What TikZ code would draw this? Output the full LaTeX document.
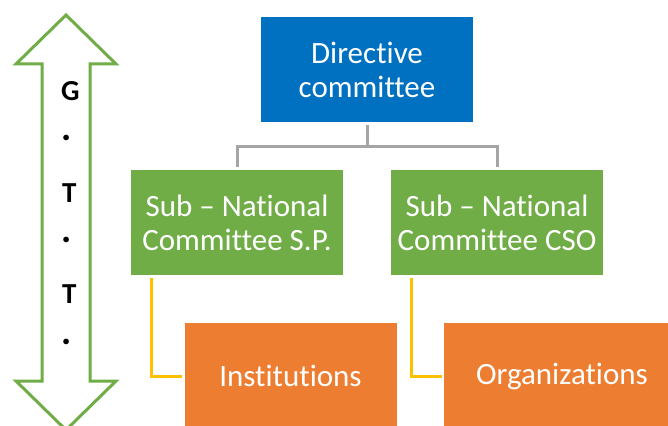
\documentclass[tikz,border=0pt]{standalone}
\usepackage{fontspec}
\setmainfont{Carlito}[Ligatures={NoCommon,NoContextual}]
\definecolor{dblue}{HTML}{0070C0}
\definecolor{dgreen}{HTML}{70AD47}
\definecolor{dorange}{HTML}{ED7D31}
\definecolor{dgray}{HTML}{A5A5A5}
\definecolor{dyellow}{HTML}{FFC000}
\begin{document}
\begin{tikzpicture}[x=1pt,y=-1pt,
  box/.style={rectangle, minimum width=212pt, minimum height=105pt, inner sep=0pt,
    text=white, font=\fontsize{31}{34}\selectfont, align=center},
  bluebox/.style={box, fill=dblue},
  greenbox/.style={box, fill=dgreen},
  orangebox/.style={box, fill=dorange, minimum height=106pt},
  grayline/.style={draw=dgray, line width=3pt, shorten <=3pt, shorten >=3pt},
  yelline/.style={draw=dyellow, line width=3pt, shorten <=3pt, shorten >=2pt},
  arrowtext/.style={anchor=base west, inner sep=0pt, font=\fontsize{29}{34}\selectfont\bfseries},
  arrowdot/.style={anchor=base west, inner sep=0pt, font=\fontsize{38}{40}\selectfont\bfseries}]
\useasboundingbox (0,0) rectangle (668,425);
\clip (0,0) rectangle (668,425);
% double arrow
\draw[dgreen, line width=3pt, fill=white, line join=miter]
  (66,15) -- (116,64) -- (90,64) -- (90,381) -- (116,381) -- (66,430)
  -- (16,381) -- (42,381) -- (42,64) -- (16,64) -- cycle;
\node[arrowtext] (a1) at (61,100) {G};
\node[arrowdot] (a2) at (61.5,140) {.};
\node[arrowtext] (a3) at (62,202) {T};
\node[arrowdot] (a4) at (61.5,242) {.};
\node[arrowtext] (a5) at (62,303) {T};
\node[arrowdot] (a6) at (61.5,344) {.};
% boxes
\node[bluebox] (dir) at (367,69.5) {Directive\\committee};
\node[greenbox] (gl) at (237,222.5) {Sub -- National\\Committee S.P.};
\node[greenbox] (gr) at (497,222.5) {Sub -- National\\Committee CSO};
\node[orangebox] (ol) at (290.5,376) {Institutions};
\node[orangebox, minimum width=236pt] (or) at (562,376) {Organizations};
% connectors
\draw[grayline] (dir.south) -- ++(0,24) -| (gl.north);
\draw[grayline] (dir.south) -- ++(0,24) -| (gr.north);
\draw[yelline] ([xshift=-86pt]gl.south) |- (ol.west);
\draw[yelline] ([xshift=-86pt]gr.south) |- (or.west);
\end{tikzpicture}
\end{document}
